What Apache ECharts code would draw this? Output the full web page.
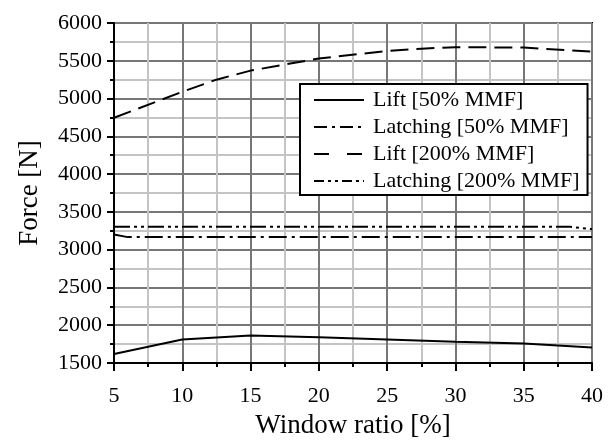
<!DOCTYPE html>
<html>
  <head>
    <meta charset="utf-8">
    <title>Force vs window ratio</title>
  </head>
  <body style="margin: 0; background: #fff">
    <div id="container" style="width: 610px; height: 444px;"></div>
    <script type="text/javascript" src="https://cdn.jsdelivr.net/npm/echarts@6/dist/echarts.min.js"></script>
    <script type="text/javascript">
      // values, [window ratio %, force N]
      var lift50 = [[5, 1620], [10, 1810], [15, 1865], [20, 1840], [25, 1812], [30, 1782], [35, 1757], [40, 1706]];
      var latching50 = [[5, 3200], [6, 3166], [10, 3166], [15, 3166], [20, 3166], [25, 3166], [30, 3166], [35, 3166], [40, 3166]];
      var lift200 = [[5, 4746], [10, 5090], [12.5, 5250], [15, 5370], [20, 5530], [25, 5630], [27.5, 5660], [30, 5680], [35, 5675], [40, 5620]];
      var latching200 = [[5, 3303], [10, 3303], [20, 3303], [30, 3303], [38.4, 3303], [40, 3272]];

      var seriesNames = ['Lift [50% MMF]', 'Latching [50% MMF]', 'Lift [200% MMF]', 'Latching [200% MMF]'];
      var xTicks = { min: 5, max: 40, interval: 5 };
      var yTicks = { min: 1500, max: 6000, interval: 500 };

      var serif = 'Liberation Serif';
      var dashes = ['solid', [18, 5, 3, 5], [18, 8], [16, 4, 3, 4, 3, 4]];
      var legendDashes = ['solid', [13, 5, 3, 5], [15, 18], [10, 4, 3, 4, 3, 4]];
      var seriesData = [lift50, latching50, lift200, latching200];

      var myChart = echarts.init(document.getElementById('container'), null, { renderer: 'canvas' });

      var option = {
        animation: false,
        grid: {
          left: 114, right: 18, top: 23, bottom: 73,
          show: true, borderColor: '#000', borderWidth: 2,
          containLabel: false
        },
        legend: {
          orient: 'vertical',
          left: 300, top: 84,
          padding: [5, 8, 3, 13],
          itemWidth: 50, itemHeight: 14, itemGap: 5,
          backgroundColor: '#fff',
          borderColor: '#000', borderWidth: 2,
          borderRadius: 0,
          data: seriesNames.map(function (name, i) {
            return {
              name: name,
              itemStyle: { opacity: 0 },
              lineStyle: { color: '#000', width: 2, type: legendDashes[i] }
            };
          }),
          textStyle: { fontFamily: serif, fontSize: 22, color: '#000', lineHeight: 22, padding: [0, 0, 0, 4] }
        },
        xAxis: {
          type: 'value',
          min: xTicks.min, max: xTicks.max, interval: xTicks.interval,
          name: 'Window ratio [%]',
          nameLocation: 'middle', nameGap: 49,
          nameTextStyle: { fontFamily: serif, fontSize: 27, color: '#000' },
          axisLine: { show: true, onZero: false, lineStyle: { color: '#000', width: 2 } },
          axisTick: { show: true, length: 8, lineStyle: { color: '#000', width: 2 } },
          minorTick: { show: true, splitNumber: 2, length: 4, lineStyle: { color: '#000', width: 2 } },
          axisLabel: { fontFamily: serif, fontSize: 22, color: '#000', margin: 22 },
          splitLine: { show: true, lineStyle: { color: '#777', width: 2 } },
          minorSplitLine: { show: true, lineStyle: { color: '#c4c4c4', width: 2 } }
        },
        yAxis: {
          type: 'value',
          min: yTicks.min, max: yTicks.max, interval: yTicks.interval,
          name: 'Force [N]',
          nameLocation: 'middle', nameGap: 71,
          nameTextStyle: { fontFamily: serif, fontSize: 27, color: '#000' },
          axisLine: { show: true, onZero: false, lineStyle: { color: '#000', width: 2 } },
          axisTick: { show: true, length: 7, lineStyle: { color: '#000', width: 2 } },
          minorTick: { show: true, splitNumber: 2, length: 4, lineStyle: { color: '#000', width: 2 } },
          axisLabel: {
            fontFamily: serif, fontSize: 22, color: '#000', margin: 12,
            formatter: function (v) { return String(v); }
          },
          splitLine: { show: true, lineStyle: { color: '#777', width: 2 } },
          minorSplitLine: { show: true, lineStyle: { color: '#c4c4c4', width: 2 } }
        },
        series: seriesNames.map(function (name, i) {
          return {
            name: name,
            type: 'line',
            data: seriesData[i],
            symbol: 'none',
            color: '#000',
            lineStyle: { color: '#000', width: 2, type: dashes[i] },
            z: 3
          };
        })
      };

      myChart.setOption(option);
    </script>
  </body>
</html>
